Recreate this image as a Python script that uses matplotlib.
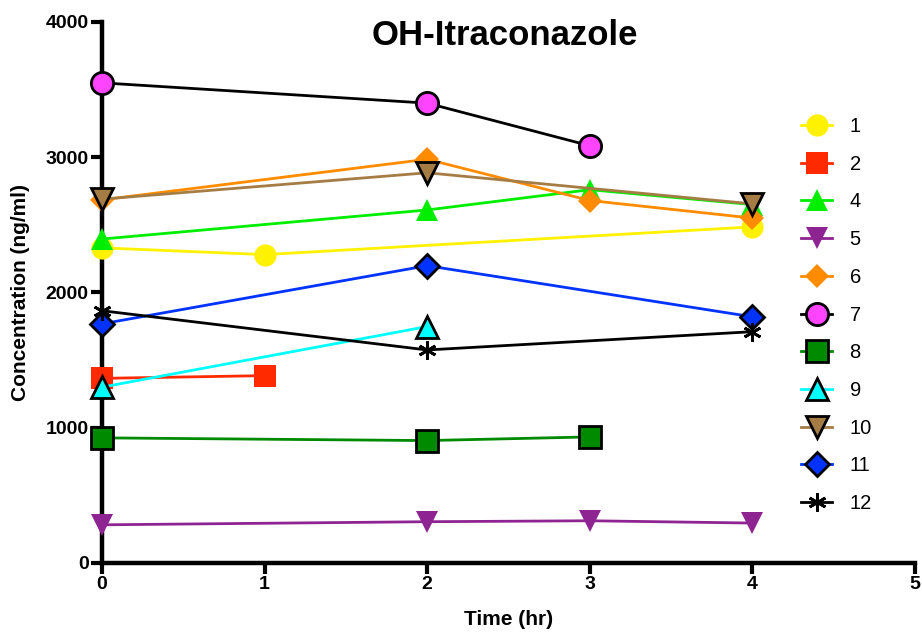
import numpy as np
import matplotlib
matplotlib.use('Agg')
import matplotlib.pyplot as plt

plt.rcParams['font.family'] = ['Liberation Sans', 'DejaVu Sans']

# subject data (time in hr, concentration in ng/ml)
labels = ['1', '2', '4', '5', '6', '7', '8', '9', '10', '11', '12']
times = [
    [0, 1, 4],
    [0, 1],
    [0, 2, 3, 4],
    [0, 2, 3, 4],
    [0, 2, 3, 4],
    [0, 2, 3],
    [0, 2, 3],
    [0, 2],
    [0, 2, 4],
    [0, 2, 4],
    [0, 2, 4],
]
conc = [
    [2330, 2280, 2485],
    [1365, 1385],
    [2395, 2610, 2760, 2650],
    [282, 305, 312, 295],
    [2685, 2985, 2680, 2550],
    [3550, 3400, 3085],
    [925, 905, 932],
    [1300, 1748],
    [2690, 2885, 2655],
    [1768, 2198, 1820],
    [1865, 1575, 1710],
]

line_cols = ['#FFF200', '#FF2A00', '#00EE00', '#8E2491', '#FF8C00', '#000000',
             '#008A00', '#00FFFF', '#A67C45', '#0033FF', '#000000']
face_cols = ['#FFF200', '#FF2A00', '#00EE00', '#8E2491', '#FF8C00', '#FF44FF',
             '#008A00', '#00FFFF', '#A67C45', '#0033FF', '#000000']
markers = ['o', 's', '^', 'v', 'D', 'o', 's', '^', 'v', 'D', (6, 2, 0)]
msizes = [16, 16, 16, 16, 12, 16, 16, 16, 16, 12, 13]
edged = [False, False, False, False, False, True, True, True, True, True, True]

fig = plt.figure(figsize=(9.22, 6.39), dpi=100)
ax = fig.add_axes([0.1106, 0.119, 0.8818, 0.8466])

for i in range(len(labels)):
    ec = 'black' if edged[i] else face_cols[i]
    mew = 2 if edged[i] else 0
    ax.plot(times[i], conc[i], color=line_cols[i], lw=2, marker=markers[i],
            ms=msizes[i], mfc=face_cols[i], mec=ec, mew=mew,
            label=labels[i], clip_on=False, zorder=3 + i * 0.1)

ax.set_xlim(0, 5)
ax.set_ylim(0, 4000)
ax.set_xticks(range(0, 6))
ax.set_yticks(range(0, 4001, 1000))
for s in ['top', 'right']:
    ax.spines[s].set_visible(False)
for s in ['left', 'bottom']:
    ax.spines[s].set_linewidth(3.2)
ax.tick_params(width=3, length=8, labelsize=14, pad=1.5)
for t in ax.get_xticklabels() + ax.get_yticklabels():
    t.set_fontweight('bold')

ax.set_xlabel('Time (hr)', fontsize=15, fontweight='bold', labelpad=12)
ax.set_ylabel('Concentration (ng/ml)', fontsize=15, fontweight='bold', labelpad=11)
fig.text(0.548, 0.945, 'OH-Itraconazole', fontsize=25, fontweight='bold',
         ha='center', va='center')

leg = ax.legend(loc='upper left', bbox_to_anchor=(0.869, 0.817), frameon=False,
                fontsize=14.5, handlelength=1.55, labelspacing=0.93,
                handletextpad=0.85, borderpad=0, borderaxespad=0,
                bbox_transform=fig.transFigure)

fig.savefig('out.png', dpi=100)
